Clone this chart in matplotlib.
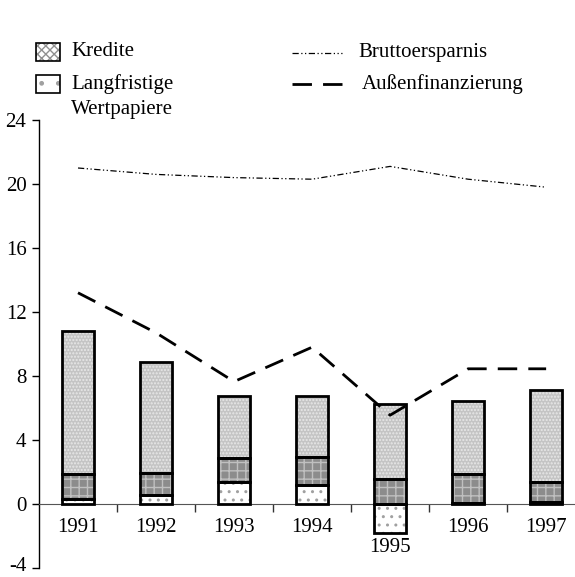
import numpy as np
import matplotlib
matplotlib.use("Agg")
import matplotlib.pyplot as plt
import matplotlib.transforms as mtransforms
from matplotlib.patches import Rectangle
from matplotlib.lines import Line2D

plt.rcParams['font.family'] = ['Liberation Serif', 'DejaVu Serif']
plt.rcParams['hatch.linewidth'] = 1.0

# Data (Prozent)
years = ['1991', '1992', '1993', '1994', '1995', '1996', '1997']
wertpapiere = [0.3, 0.55, 1.35, 1.2, -1.8, 0.05, 0.1]
kredite_unten = [1.55, 1.4, 1.55, 1.75, 1.55, 1.8, 1.3]   # dunkles Segment
kredite_oben = [8.95, 6.9, 3.85, 3.8, 4.7, 4.6, 5.7]      # helles Segment
bruttoersparnis = [21.0, 20.6, 20.4, 20.3, 21.1, 20.3, 19.8]
aussenfinanzierung = [13.2, 10.7, 7.65, 9.8, 5.55, 8.45, 8.45]

FS = 15
W, H = 575, 577
fig = plt.figure(figsize=(W / 100, H / 100), dpi=100)
ax = fig.add_axes([39 / W, 9 / H, (575 - 39) / W, (568 - 120) / H])

x = np.arange(len(years))
bw = 0.41

wp = np.array(wertpapiere)
ku = np.array(kredite_unten)
ko = np.array(kredite_oben)
base_ku = np.where(wp > 0, wp, 0)
base_ko = base_ku + ku


def hatched_bar(xs, h, bottom, face, hatch, hcol):
    ax.bar(xs, h, bw, bottom=bottom, color=face, edgecolor=hcol,
           hatch=hatch, linewidth=0, zorder=2)
    ax.bar(xs, h, bw, bottom=bottom, fill=False, edgecolor='black',
           linewidth=2, zorder=3)


hatched_bar(x, wp, 0, 'white', '..', '#a0a0a0')
hatched_bar(x, ku, base_ku, '#8c8c8c', '++', '#c0c0c0')
hatched_bar(x, ko, base_ko, '#c4c4c4', '.....', '#e8e8e8')

ax.plot(x, bruttoersparnis, color='black', lw=0.9,
        dashes=(5, 2, 1, 2, 1, 2), zorder=4)
ax.plot(x, aussenfinanzierung, color='black', lw=2,
        dashes=(7, 4), zorder=4)

ax.set_xlim(-0.5, 6.37)
ax.set_ylim(-4, 24)
for s in ['top', 'right']:
    ax.spines[s].set_visible(False)
ax.spines['bottom'].set_position(('data', 0))
ax.spines['bottom'].set_color('#555555')
ax.spines['left'].set_linewidth(1)

yt = np.arange(-4, 25, 4)
ax.set_yticks(yt)
ax.set_yticklabels([str(v) for v in yt], fontsize=FS)
ax.tick_params(axis='y', direction='out', length=5, width=1, pad=4)
ax.set_xticks(x[:-1] + 0.5)
ax.set_xticklabels([])
ax.tick_params(axis='x', direction='out', length=6, width=1, color='#333333')

# -4 label a little up so it stays inside the picture
lbl = ax.get_yticklabels()[0]
lbl.set_transform(lbl.get_transform() + mtransforms.ScaledTranslation(0, 3 / 72, fig.dpi_scale_trans))

for i, yr in enumerate(years):
    yl = -1.45
    if wertpapiere[i] < -0.5:
        yl = wertpapiere[i] - 0.95
    ax.text(i, yl, yr, ha='center', va='center', fontsize=FS)

# Legende
def fx(px):
    return px / W


def fy(py):
    return 1 - py / H


fig.add_artist(Rectangle((fx(36), fy(61)), 24 / W, 18 / H, transform=fig.transFigure,
                         facecolor='white', edgecolor='#909090', hatch='xxxx', lw=0))
fig.add_artist(Rectangle((fx(36), fy(61)), 24 / W, 18 / H, transform=fig.transFigure,
                         fill=False, edgecolor='black', lw=1.2))
fig.add_artist(Rectangle((fx(36), fy(93)), 24 / W, 18 / H, transform=fig.transFigure,
                         facecolor='white', edgecolor='#a0a0a0', hatch='.', lw=0))
fig.add_artist(Rectangle((fx(36), fy(93)), 24 / W, 18 / H, transform=fig.transFigure,
                         fill=False, edgecolor='black', lw=1.2))
fig.text(fx(71), fy(52), 'Kredite', fontsize=FS, va='center')
fig.text(fx(71), fy(84), 'Langfristige', fontsize=FS, va='center')
fig.text(fx(71), fy(110), 'Wertpapiere', fontsize=FS, va='center')

fig.add_artist(Line2D([fx(292), fx(342)], [fy(53), fy(53)], transform=fig.transFigure,
                      color='black', lw=0.9, dashes=(5, 2, 1, 2, 1, 2)))
fig.add_artist(Line2D([fx(292), fx(343)], [fy(84), fy(84)], transform=fig.transFigure,
                      color='black', lw=2, dashes=(7, 4)))
fig.text(fx(358), fy(52), 'Bruttoersparnis', fontsize=FS, va='center')
fig.text(fx(362), fy(84), 'Außenfinanzierung', fontsize=FS, va='center')

fig.savefig('out.png', dpi=100)
